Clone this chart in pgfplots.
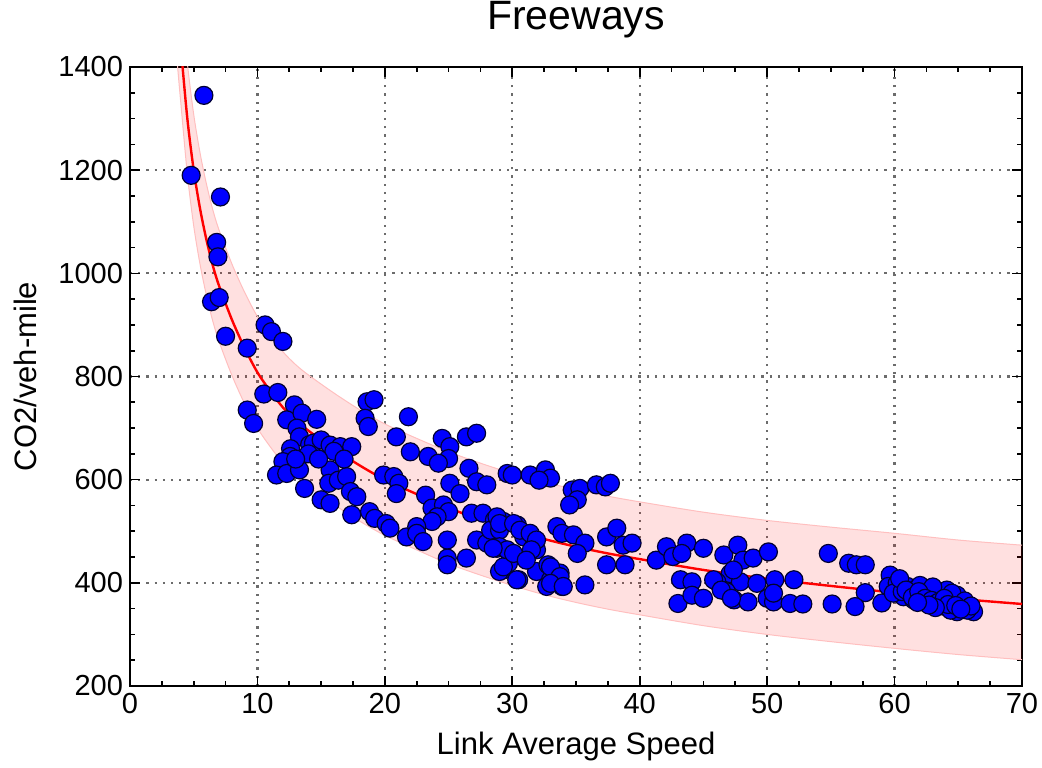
\documentclass[border=0pt]{standalone}
\usepackage{fontspec}
\setmainfont{Liberation Sans}
\usepackage{pgfplots}
\usepackage{pgfplotstable}
\pgfplotsset{compat=1.18}
\usepgfplotslibrary{fillbetween}
\begin{document}
\pgfplotstableread{
x y up lo
3.2 1690 1798 1582
3.5 1580 1688 1472
3.8 1490 1598 1382
4.0 1435 1543 1327
4.5 1300 1408 1192
5.0 1200 1308 1092
5.5 1125 1233 1017
6.0 1065 1173 957
6.5 1015 1123 907
7.0 975 1083 867
8.0 910 1018 802
9.0 855 963 747
10 808 916 700
11 772 880 664
12 740 848 632
13 715 823 607
14 695 803 587
16 660 768 552
18 628 736 520
20 600 708 492
22.5 572 680 464
25 545 654 437
27.5 523 632 415
30 503 612 395
32.5 485 595 377
35 470 581 362
37.5 457 568 349
40 446 557 338
45 425 537 317
50 408 521 300
55 394 508 286
60 381 496 273
65 369 483 261
70 359 473 251
}\fit
\pgfplotstableread{
x y
5.8 1345
4.8 1190
7.1 1148
6.8 1060
6.9 1032
6.4 945
7.0 953
7.5 878
9.2 855
10.6 900
11.1 887
12.0 868
10.5 766
11.6 769
9.2 735
9.7 709
12.9 745
12.3 716
13.5 729
14.65 717
13.1 700
13.3 683
14.1 668
14.4 671
15.0 677
15.7 667
16.5 664
17.4 664
12.6 660
12.56 645
12.0 635
11.5 609
12.3 612
13.3 619
15.7 619
15.6 593
16.35 599
17.0 606
13.7 583
15.0 561
15.7 554
17.3 577
17.8 567
17.4 532
18.8 538
19.2 525
20.1 515
20.4 506
18.6 751
19.15 755
18.45 719
18.7 703
21.85 722
20.9 683
22.0 654
23.4 645
24.5 680
25.1 664
25.0 641
24.2 632
26.4 683
27.2 690
19.9 609
20.7 606
21.1 593
20.9 573
23.2 570
25.1 593
25.9 573
23.7 545
24.6 551
25.0 538
24.1 528
23.7 519
21.7 489
22.5 509
22.5 496
23.0 480
24.9 483
24.9 448
24.9 435
26.4 448
26.6 622
27.2 596
28.0 590
26.8 535
27.7 535
28.6 522
29.3 519
27.2 483
28.0 477
28.8 467
29.3 425
28.3 502
29.0 502
16.0 655
16.8 640
14.0 650
13.0 640
14.8 640
29.6 612
30.0 609
31.4 609
32.6 619
33.0 603
32.1 599
34.7 580
35.3 583
35.1 561
34.5 551
36.6 590
37.3 586
37.7 593
30.4 512
30.9 489
31.7 486
31.9 464
29.0 470
29.96 457
29.7 438
29.0 422
30.5 406
31.9 422
32.8 435
33.75 419
33.0 406
32.7 393
33.9 393
35.7 396
33.5 509
33.9 496
34.8 493
35.7 477
35.1 457
37.4 489
38.2 506
38.7 473
39.4 477
37.4 435
38.85 435
41.3 444
42.1 470
42.6 451
43.7 477
43.3 457
45.0 467
43.2 406
44.1 402
43.0 360
44.1 376
45.0 370
46.6 454
47.7 473
48.1 444
48.9 448
47.1 418
47.9 402
46.05 402
46.8 383
47.4 367
48.5 363
49.2 399
50.1 460
50.6 406
52.1 406
50.0 370
50.5 363
51.8 360
52.8 359
54.8 457
56.4 438
57.0 435
57.7 435
57.7 381
55.1 359
56.9 354
59.0 361
59.65 415
59.5 393
60.2 399
61.0 393
61.75 389
62.8 389
63.6 383
64.9 376
60.7 373
61.5 367
62.3 363
63.05 360
63.8 355
64.6 353
65.4 351
66.2 344
59.9 380
60.6 383
64.4 367
65.1 360
63.3 373
62.0 376
61.2 380
64.1 386
62.5 380
64.9 344
65.7 347
64.4 347
62.0 395
63.0 392
64.5 380
65.5 365
66.0 355
60.4 408
60.9 386
61.4 372
61.9 383
62.4 370
62.9 366
63.4 362
63.9 370
64.2 358
64.8 356
65.2 349
63.2 352
62.7 357
61.8 362
45.8 406
46.4 386
47.2 370
50.5 380
47.35 425
33.0 431
33.75 412
33.0 399
34.0 393
29.3 431
29.6 464
30.1 457
30.35 406
28.8 528
29.0 515
30.1 515
30.6 502
31.4 496
31.9 483
31.5 464
31.1 444
28.5 467
}\pts
\begin{tikzpicture}
\begin{axis}[name=ax, at={(0,0)}, anchor=south west,
  scale only axis, width=446pt, height=309.5pt,
  xmin=0, xmax=70, ymin=200, ymax=1400,
  xtick={0,10,...,70}, ytick={200,400,...,1400},
  minor x tick num=3, minor y tick num=3,
  tick align=inside, major tick length=5pt, minor tick length=2.5pt,
  grid=major, grid style={gray!85!black, line width=1.1pt, dash pattern=on 1.1pt off 3pt},
  axis line style={line width=1pt},
  every tick/.style={black, line width=0.8pt},
  ticklabel style={font=\fontsize{14.5}{16}\selectfont},
  /pgf/number format/assume math mode=true,
  /pgf/number format/1000 sep={},
  title={Freeways},
  title style={font=\fontsize{20.5}{24}\selectfont, at={(0.5,1)}, anchor=base, yshift=12.5pt},
  xlabel={Link Average Speed}, ylabel={CO2/veh-mile},
  label style={font=\fontsize{15.5}{18}\selectfont},
  xlabel style={at={(axis description cs:0.5,0)}, anchor=base, yshift=-34pt},
  ylabel style={at={(axis description cs:-0.1177,0.5)}, anchor=center},
]
\addplot[draw=red!25, line width=0.5pt, smooth, name path=up] table[x=x,y=up]{\fit};
\addplot[draw=red!25, line width=0.5pt, smooth, name path=lo] table[x=x,y=lo]{\fit};
\addplot[fill=red, fill opacity=0.12, draw=none] fill between[of=up and lo];
\addplot[red, line width=1.2pt, smooth] table[x=x,y=y]{\fit};
\addplot[only marks, mark=*, mark size=4.5pt,
  mark options={fill=blue, draw=blue!20!black, line width=0.6pt}] table[x=x,y=y]{\pts};
\end{axis}
\pgfresetboundingbox
\path[use as bounding box] ([shift={(-65pt,-40.5pt)}]ax.south west) rectangle ([shift={(10pt,33.5pt)}]ax.north east);
\end{tikzpicture}
\end{document}
